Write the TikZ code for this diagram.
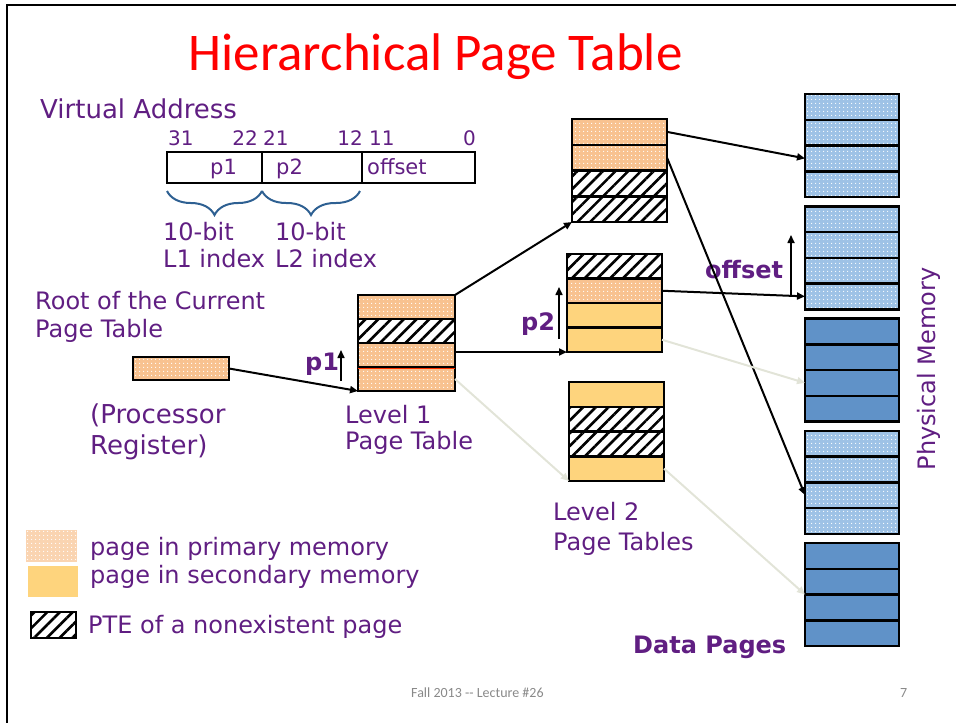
\documentclass[tikz,border=0pt]{standalone}
\usepackage{fontspec}
\setmainfont{DejaVu Sans}
\newfontfamily\calfont{Carlito}
\usetikzlibrary{positioning,patterns.meta,decorations.pathreplacing,arrows.meta}

\definecolor{slidepurple}{RGB}{96,30,130}
\definecolor{primorange}{RGB}{248,194,144}
\definecolor{secyellow}{RGB}{254,212,125}
\definecolor{primblue}{RGB}{158,194,230}
\definecolor{secblue}{RGB}{96,146,200}
\definecolor{bracecol}{RGB}{46,96,146}
\definecolor{faint}{RGB}{226,228,216}
\definecolor{footgray}{RGB}{137,137,137}

\tikzset{
  txt/.style={text=slidepurple, font=\fontsize{24}{28}\selectfont, inner sep=0pt, anchor=base west},
  bitno/.style={txt, font=\fontsize{20}{24}\selectfont},
  boldtxt/.style={txt, font=\bfseries\fontsize{24}{28}\selectfont},
  rowline/.style={postaction={draw, line width=2.5pt}},
  row/.style={minimum height=24pt, minimum width=97pt, inner sep=0pt, outer sep=0pt},
  prim/.style={row, fill=primorange,
    postaction={pattern={Dots[radius=0.7pt,distance=4pt]}, pattern color=white}, rowline},
  sec/.style={row, fill=secyellow, rowline},
  nopg/.style={row, fill=white,
    postaction={pattern={Lines[angle=45,distance=9pt,line width=2.6pt]}, pattern color=black}, rowline},
  mprim/.style={prim, fill=primblue, minimum width=94pt, minimum height=25.75pt},
  msec/.style={sec, fill=secblue, minimum width=94pt, minimum height=25.75pt},
  vabox/.style={draw, line width=2.5pt, minimum height=31pt, inner sep=0pt, outer sep=0pt},
  idxbrace/.style={draw=bracecol, line width=2pt, decorate, decoration={brace, mirror, amplitude=24pt}},
  link/.style={->, line width=2pt},
  faintlink/.style={->, line width=2pt, draw=faint},
  idxarrow/.style={->, line width=1.6pt}
}

\begin{document}
\begin{tikzpicture}[x=1pt, y=-1pt, >={Triangle[length=8pt,width=7pt]}]
    \useasboundingbox (0,0) rectangle (956,723);

    % slide frame and title
    \draw[line width=2.5pt] (7,723) -- (7,5) -- (956,5);
    \node (title) [anchor=base, text=red, font=\calfont\fontsize{53}{60}\selectfont, inner sep=0pt] at (435.5,70) {Hierarchical Page Table};

    % virtual address
    \node (va) [txt, font=\fontsize{26}{30}\selectfont] at (40,118) {Virtual Address};
    \node (b31) [bitno] at (168,145) {31};
    \node (b22) [bitno, anchor=base east] at (258,145) {22};
    \node (b21) [bitno] at (263,145) {21};
    \node (b12) [bitno, anchor=base east] at (363,145) {12};
    \node (b11) [bitno] at (369,145) {11};
    \node (b0) [bitno, anchor=base east] at (476,145) {0};

    \node (vap1) [vabox, minimum width=95pt, anchor=north west] at (167,152) {};
    \node (vap2) [vabox, minimum width=100pt, right=0pt of vap1] {};
    \node (vaoff) [vabox, minimum width=113pt, right=0pt of vap2] {};
    \node (lp1) [bitno, font=\fontsize{21}{24}\selectfont] at (210,174) {p1};
    \node (lp2) [bitno, font=\fontsize{21}{24}\selectfont] at (276,174) {p2};
    \node (loff) [bitno, font=\fontsize{21}{24}\selectfont] at (367,174) {offset};

    \draw[idxbrace] ([yshift=-8pt]vap1.south west) -- ([yshift=-8pt]vap1.south east);
    \draw[idxbrace] ([yshift=-8pt]vap2.south west) -- ([yshift=-8pt,xshift=-2pt]vap2.south east);
    \node (bits1) [txt] at (163,240) {10-bit};
    \node (idx1) [txt] at (163,267) {L1 index};
    \node (bits2) [txt] at (275,240) {10-bit};
    \node (idx2) [txt] at (275,267) {L2 index};

    % root register
    \node (root1) [txt] at (35,309) {Root of the Current};
    \node (root2) [txt] at (35,337) {Page Table};
    \node (reg) [prim, minimum width=96pt, minimum height=23pt, anchor=north west] at (133,357) {};
    \node (proc1) [txt, font=\fontsize{26}{30}\selectfont] at (90,423) {(Processor};
    \node (proc2) [txt, font=\fontsize{26}{30}\selectfont] at (90,454) {Register)};

    % level 1 table
    \node (l1a) [prim, anchor=north west] at (358,295) {};
    \node (l1b) [nopg, below=0pt of l1a] {};
    \node (l1c) [prim, below=0pt of l1b] {};
    \node (l1d) [prim, below=0pt of l1c] {};
    \draw[line width=1pt, red!60!orange] ([yshift=-1.8pt]l1d.north west) -- ([yshift=-1.8pt]l1d.north east);
    \node (lev1a) [txt] at (345,423) {Level 1};
    \node (lev1b) [txt] at (345,449) {Page Table};
    \node (lbp1) [boldtxt] at (305,370) {p1};
    \coordinate (p1lo) at (341,381);
    \coordinate (p1hi) at (341,350);
    \draw[idxarrow] (p1lo) -- (p1hi);

    % level 2 tables
    \node (t2a1) [prim, minimum width=95pt, minimum height=25.75pt, anchor=north west] at (572,119) {};
    \node (t2a2) [prim, minimum width=95pt, minimum height=25.75pt, below=0pt of t2a1] {};
    \node (t2a3) [nopg, minimum width=95pt, minimum height=25.75pt, below=0pt of t2a2] {};
    \node (t2a4) [nopg, minimum width=95pt, minimum height=25.75pt, below=0pt of t2a3] {};

    \node (t2b1) [nopg, minimum width=95pt, minimum height=24.5pt, anchor=north west] at (567,254) {};
    \node (t2b2) [prim, minimum width=95pt, minimum height=24.5pt, below=0pt of t2b1] {};
    \node (t2b3) [sec, minimum width=95pt, minimum height=24.5pt, below=0pt of t2b2] {};
    \node (t2b4) [sec, minimum width=95pt, minimum height=24.5pt, below=0pt of t2b3] {};

    \node (t2c1) [sec, minimum width=95pt, minimum height=24.75pt, anchor=north west] at (569,382) {};
    \node (t2c2) [nopg, minimum width=95pt, minimum height=24.75pt, below=0pt of t2c1] {};
    \node (t2c3) [nopg, minimum width=95pt, minimum height=24.75pt, below=0pt of t2c2] {};
    \node (t2c4) [sec, minimum width=95pt, minimum height=24.75pt, below=0pt of t2c3] {};

    \node (lev2a) [txt] at (553,520) {Level 2};
    \node (lev2b) [txt] at (553,550) {Page Tables};
    \node (lbp2) [boldtxt] at (521,330) {p2};
    \coordinate (p2lo) at (559,339);
    \coordinate (p2hi) at (559,287);
    \draw[idxarrow] (p2lo) -- (p2hi);

    % physical memory
    \node (m1a) [mprim, anchor=north west] at (805,94) {};
    \node (m1b) [mprim, below=0pt of m1a] {};
    \node (m1c) [mprim, below=0pt of m1b] {};
    \node (m1d) [mprim, below=0pt of m1c] {};

    \node (m2a) [mprim, anchor=north west] at (805,206.25) {};
    \node (m2b) [mprim, below=0pt of m2a] {};
    \node (m2c) [mprim, below=0pt of m2b] {};
    \node (m2d) [mprim, below=0pt of m2c] {};

    \node (m3a) [msec, anchor=north west] at (805,318.5) {};
    \node (m3b) [msec, below=0pt of m3a] {};
    \node (m3c) [msec, below=0pt of m3b] {};
    \node (m3d) [msec, below=0pt of m3c] {};

    \node (m4a) [mprim, anchor=north west] at (805,430.75) {};
    \node (m4b) [mprim, below=0pt of m4a] {};
    \node (m4c) [mprim, below=0pt of m4b] {};
    \node (m4d) [mprim, below=0pt of m4c] {};

    \node (m5a) [msec, anchor=north west] at (805,543) {};
    \node (m5b) [msec, below=0pt of m5a] {};
    \node (m5c) [msec, below=0pt of m5b] {};
    \node (m5d) [msec, below=0pt of m5c] {};

    \node (phys) [txt, rotate=90, anchor=center] at (929,369) {Physical Memory};
    \node (data) [boldtxt] at (633,653) {Data Pages};
    \node (loffb) [boldtxt] at (705,278) {offset};
    \coordinate (offlo) at (791,297);
    \coordinate (offhi) at (791,235);
    \draw[idxarrow] (offlo) -- (offhi);

    % connectors
    \draw[link] (reg.east) -- (l1d.south west);
    \draw[link] (l1a.north east) -- (t2a4.south west);
    \draw[link, <-] (t2b4.south west) -- (t2b4.south west -| l1c.east);
    \draw[faintlink] (l1d.east) -- (t2c4.south west);
    \draw[link] (t2a1.east) -- (m1c.west);
    \draw[link] (t2a2.east) -- (m4c.west);
    \draw[link] (t2b2.east) -- (m2d.west);
    \draw[faintlink] (t2b4.east) -- (m3c.west);
    \draw[faintlink] (t2c4.east) -- (m5c.north west);

    % legend
    \node (lgprim) [row, fill=primorange!70, minimum width=51pt, minimum height=32pt, anchor=north west,
      postaction={pattern={Dots[radius=0.7pt,distance=4pt]}, pattern color=white}] at (26,530) {};
    \node (lgsec) [row, fill=secyellow, minimum width=50pt, minimum height=31pt, anchor=north west] at (28,566) {};
    \node (lgnopg) [nopg, minimum width=45pt, minimum height=26pt, anchor=north west] at (31,612) {};
    \node (lgt1) [txt] at (90,555) {page in primary memory};
    \node (lgt2) [txt] at (90,583) {page in secondary memory};
    \node (lgt3) [txt] at (88,633) {PTE of a nonexistent page};

    % footer
    \node (foot) [anchor=base west, text=footgray, font=\calfont\fontsize{14}{16}\selectfont, inner sep=0pt] at (411,697) {Fall 2013 -{}- Lecture \#26};
    \node (pgno) [anchor=base west, text=footgray, font=\calfont\fontsize{14}{16}\selectfont, inner sep=0pt] at (900,697) {7};
\end{tikzpicture}
\end{document}
